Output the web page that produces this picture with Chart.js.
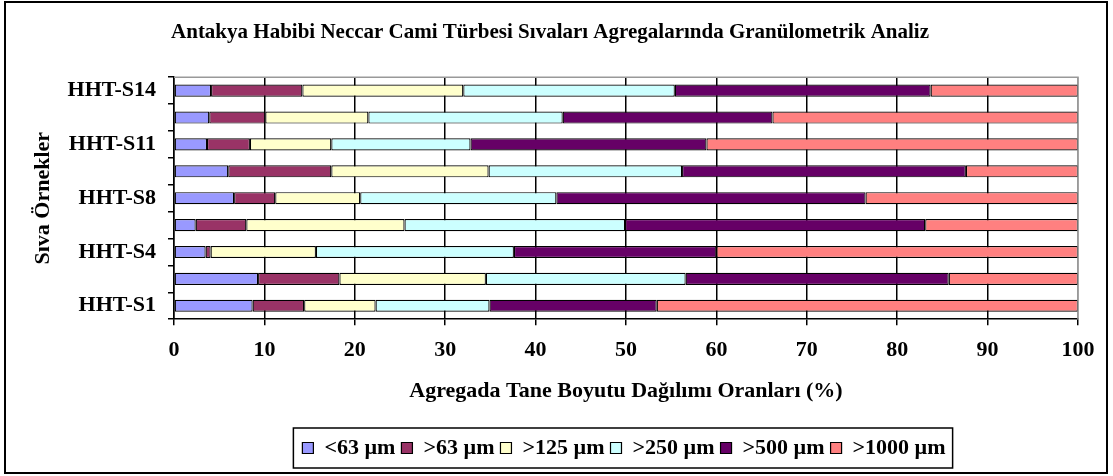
<!DOCTYPE html>
<html>
<head>
<meta charset="utf-8">
<script src="https://cdn.jsdelivr.net/npm/chart.js@4"></script>
<style>
  body { margin: 0; background: #fff; }
  canvas { display: block; }
</style>
</head>
<body>
<canvas id="myChart" width="1113" height="476"></canvas>
<script>
// samples, bottom to top
const samples = ['HHT-S1', 'HHT-S3', 'HHT-S4', 'HHT-S6', 'HHT-S8', 'HHT-S10', 'HHT-S11', 'HHT-S12', 'HHT-S14'];
const sizeLabels = ['<63 µm', '>63 µm', '>125 µm', '>250 µm', '>500 µm', '>1000 µm'];

const lt63   = [8.7, 9.3, 3.5, 2.4, 6.65, 6.0, 3.65, 3.9, 4.1];
const gt63   = [5.7, 9.0, 0.55, 5.6, 4.55, 11.4, 4.75, 6.2, 10.1];
const gt125  = [7.9, 16.2, 11.65, 17.5, 9.4, 17.4, 9.0, 11.4, 17.8];
const gt250  = [12.6, 22.1, 21.9, 24.4, 21.7, 21.4, 15.4, 21.5, 23.4];
const gt500  = [18.5, 29.1, 22.4, 33.2, 34.2, 31.4, 26.1, 23.2, 28.3];
const gt1000 = [46.6, 14.3, 40.0, 16.9, 23.5, 12.4, 41.1, 33.8, 16.3];

const xTicks = [0, 10, 20, 30, 40, 50, 60, 70, 80, 90, 100];

const seriesData = [lt63, gt63, gt125, gt250, gt500, gt1000];
const colors = ['#9999FF', '#993366', '#FFFFCC', '#CCFFFF', '#660066', '#FF8080'];
const serif = "'Liberation Serif', 'Times New Roman', serif";
const legendShift = 74;

// frame around the whole picture, box around legend, gray plot border
const framePlugin = {
    id: 'frame',
    afterLayout(chart) {
        // excel centres the legend under the plot, not the canvas
        const lg = chart.legend;
        lg.left += legendShift;
        lg.right += legendShift;
        (lg.legendHitBoxes || []).forEach(b => { b.left += legendShift; });
    },
    afterDraw(chart) {
        const c = chart.ctx;
        const a = chart.chartArea;
        c.save();
        c.strokeStyle = '#999';
        c.lineWidth = 1.5;
        c.beginPath();
        c.moveTo(a.left, a.top);
        c.lineTo(a.right, a.top);
        c.lineTo(a.right, a.bottom);
        c.stroke();

        const boxes = chart.legend.legendHitBoxes;
        if (boxes && boxes.length) {
            let l = Math.min(...boxes.map(b => b.left));
            let r = Math.max(...boxes.map(b => b.left + b.width));
            let t = Math.min(...boxes.map(b => b.top));
            let bt = Math.max(...boxes.map(b => b.top + b.height));
            let mid = (t + bt) / 2;
            c.strokeStyle = '#000';
            c.lineWidth = 1.5;
            c.strokeRect(l - 9, mid - 20, r - l + 16, 40);
        }

        c.lineWidth = 2;
        c.strokeRect(5, 2, 1102, 471);
        c.restore();
    }
};

const ctx = document.getElementById('myChart').getContext('2d');
const myChart = new Chart(ctx, {
    type: 'bar',
    data: {
        labels: samples,
        datasets: seriesData.map((d, i) => ({
            label: sizeLabels[i],
            data: d,
            backgroundColor: colors[i],
            borderColor: '#000',
            borderWidth: 1.2,
            borderSkipped: false,
            categoryPercentage: 1,
            barPercentage: 0.45
        }))
    },
    options: {
        indexAxis: 'y',
        responsive: false,
        animation: false,
        layout: { padding: { left: 22, right: 35, top: 12, bottom: 7 } },
        plugins: {
            title: {
                display: true,
                text: 'Antakya Habibi Neccar Cami Türbesi Sıvaları Agregalarında Granülometrik Analiz',
                color: '#000',
                font: { family: serif, size: 21, weight: 'bold' },
                padding: { top: 8, bottom: 32 }
            },
            legend: {
                position: 'bottom',
                labels: {
                    color: '#000',
                    font: { family: serif, size: 22, weight: 'bold' },
                    boxWidth: 11,
                    boxHeight: 11,
                    padding: 6
                }
            },
            tooltip: { enabled: false }
        },
        scales: {
            x: {
                stacked: true,
                min: 0,
                max: 100,
                afterBuildTicks: axis => { axis.ticks = xTicks.map(v => ({ value: v })); },
                ticks: {
                    color: '#000',
                    font: { family: serif, size: 22, weight: 'bold' },
                    padding: 12
                },
                grid: {
                    color: c => c.tick && c.tick.value === 100 ? '#999' : '#000',
                    tickColor: '#000',
                    lineWidth: 1.5,
                    tickLength: 6
                },
                border: { color: '#000', width: 1.5 },
                title: {
                    display: true,
                    text: 'Agregada Tane Boyutu Dağılımı Oranları (%)',
                    color: '#000',
                    font: { family: serif, size: 22, weight: 'bold' },
                    padding: { top: 3, bottom: 26 }
                }
            },
            y: {
                stacked: true,
                reverse: true,
                afterFit: scale => { scale.width = 152; },
                ticks: {
                    autoSkip: false,
                    color: '#000',
                    font: { family: serif, size: 22, weight: 'bold' },
                    padding: 12,
                    callback: function(val, idx) {
                        return idx % 2 === 0 ? this.getLabelForValue(val) : '';
                    }
                },
                grid: {
                    offset: true,
                    drawOnChartArea: false,
                    color: '#000',
                    lineWidth: 1.5,
                    tickLength: 6
                },
                border: { color: '#000', width: 1.5 },
                title: {
                    display: true,
                    text: 'Sıva Örnekler',
                    color: '#000',
                    font: { family: serif, size: 22, weight: 'bold' },
                    padding: { top: 8, bottom: 10 }
                }
            }
        }
    },
    plugins: [framePlugin]
});
</script>
</body>
</html>
